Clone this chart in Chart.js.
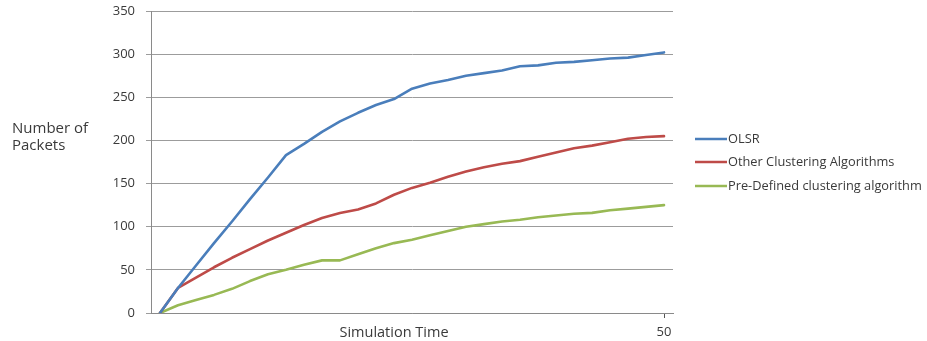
<!DOCTYPE html>
<html>
<head>
<meta charset="utf-8">
<script src="https://cdn.jsdelivr.net/npm/chart.js@4/dist/chart.umd.min.js"></script>
<style>
  html, body { margin: 0; padding: 0; background: #fff; }
  #wrap { width: 927px; height: 341px; position: relative; }
</style>
</head>
<body>
<div id="wrap"><canvas id="chart"></canvas></div>
<script>
// Simulation steps: only the final step carries a label
const timeLabels = ['', '', '', '', '', '', '', '', '', '', '', '', '', '', '',
                    '', '', '', '', '', '', '', '', '', '', '', '', '', '50'];

// Packets delivered per protocol
const olsr = [0, 29, 55, 81, 106, 132, 157, 183, 196, 210, 222, 232, 241, 248, 260,
              266, 270, 275, 278, 281, 286, 287, 290, 291, 293, 295, 296, 299, 302];
const otherClustering = [0, 29, 41, 53, 64, 74, 84, 93, 102, 110, 116, 120, 127, 137, 145,
                         151, 158, 164, 169, 173, 176, 181, 186, 191, 194, 198, 202, 204, 205];
const preDefined = [0, 9, 15, 21, 28, 37, 45, 50, 56, 61, 61, 68, 75, 81, 85,
                    90, 95, 100, 103, 106, 108, 111, 113, 115, 116, 119, 121, 123, 125];

const seriesNames = ['OLSR', 'Other Clustering Algorithms', 'Pre-Defined clustering algorithm'];
const seriesColors = ['#4A7EBB', '#BE4B48', '#98B954'];

const yAxisTitle = ['Number of', 'Packets'];
const xAxisTitle = 'Simulation Time';

const FONT = '"Open Sans", sans-serif';
const TEXT = '#3a3a3a';

// Side legend plus the horizontal axis titles
const annotations = {
  id: 'annotations',
  afterDraw(chart) {
    const ctx = chart.ctx;
    ctx.save();
    ctx.fillStyle = TEXT;
    ctx.textBaseline = 'middle';

    ctx.font = '15px ' + FONT;
    ctx.textAlign = 'left';
    ctx.fillText(yAxisTitle[0], 12, 129);
    ctx.fillText(yAxisTitle[1], 12, 146);

    ctx.font = '14.5px ' + FONT;
    ctx.textAlign = 'center';
    ctx.fillText(xAxisTitle, 394, 333);

    ctx.font = '12.8px ' + FONT;
    const rows = [139, 162, 186];
    chart.data.datasets.forEach((ds, i) => {
      const y = rows[i];
      ctx.strokeStyle = ds.borderColor;
      ctx.lineWidth = 2.5;
      ctx.beginPath();
      ctx.moveTo(695, y);
      ctx.lineTo(727, y);
      ctx.stroke();
      ctx.textAlign = 'left';
      ctx.fillStyle = TEXT;
      ctx.fillText(ds.label, 728, y);
    });
    ctx.restore();
  }
};

new Chart(document.getElementById('chart'), {
  type: 'line',
  data: {
    labels: timeLabels,
    datasets: [olsr, otherClustering, preDefined].map((values, i) => ({
      label: seriesNames[i],
      data: values,
      borderColor: seriesColors[i],
      backgroundColor: seriesColors[i],
      borderWidth: 2.6,
      pointRadius: 0,
      tension: 0,
      borderJoinStyle: 'round',
      borderCapStyle: 'round'
    }))
  },
  options: {
    responsive: true,
    maintainAspectRatio: false,
    animation: false,
    layout: { padding: { left: 0, right: 254, top: 11, bottom: 0 } },
    plugins: {
      legend: { display: false },
      tooltip: { enabled: false }
    },
    scales: {
      x: {
        type: 'category',
        offset: true,
        grid: {
          drawOnChartArea: false,
          tickLength: 5,
          color: c => (c.index === timeLabels.length - 1 ? '#555' : 'rgba(0,0,0,0)')
        },
        border: { color: '#8a8a8a', width: 1 },
        ticks: {
          autoSkip: false,
          maxRotation: 0,
          color: TEXT,
          font: { family: FONT, size: 13 },
          padding: 6
        },
        afterFit: s => { s.height = 28; s.paddingLeft = 0; s.paddingRight = 0; }
      },
      y: {
        min: 0,
        max: 350,
        ticks: {
          stepSize: 50,
          color: TEXT,
          font: { family: FONT, size: 13 },
          padding: 11
        },
        grid: { color: '#9c9c9c', tickLength: 5, lineWidth: 1 },
        border: { color: '#8a8a8a', width: 1 },
        afterFit: s => { s.width = 151; s.paddingTop = 0; s.paddingBottom = 0; }
      }
    }
  },
  plugins: [annotations]
});
</script>
</body>
</html>
